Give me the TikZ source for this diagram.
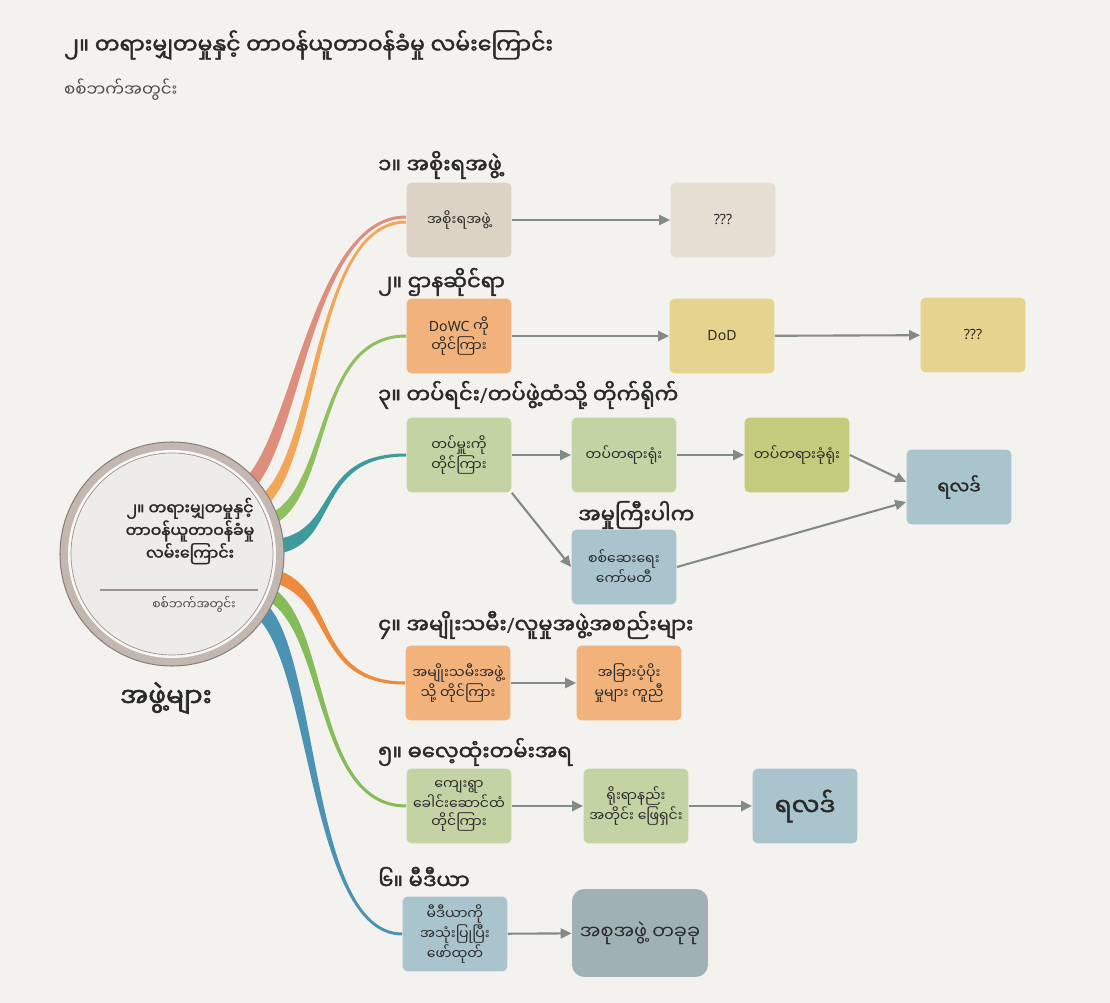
\documentclass[tikz,border=0pt]{standalone}
\usepackage{fontspec}
\setmainfont{Noto Sans}
\newfontfamily\mm[Script=Myanmar,AutoFakeBold=2]{Noto Sans Myanmar UI}
\newfontfamily\lat{Noto Sans}
\usetikzlibrary{calc,arrows.meta}

\definecolor{paper}{HTML}{F4F2EE}
\definecolor{ink}{HTML}{2A2A2A}
\definecolor{subink}{HTML}{4A4A4A}
\definecolor{arrowgrey}{HTML}{838B88}
\definecolor{beige}{HTML}{DCD3C5}
\definecolor{beigelight}{HTML}{E4DED3}
\definecolor{peach}{HTML}{F1B27C}
\definecolor{sand}{HTML}{E6D38D}
\definecolor{sage}{HTML}{C4D3A3}
\definecolor{olive}{HTML}{C4CB7D}
\definecolor{steel}{HTML}{AAC4CD}
\definecolor{slate}{HTML}{9FB1B4}
\definecolor{ringout}{HTML}{C3B7B1}
\definecolor{ringin}{HTML}{EEECE8}
\definecolor{rsalmon}{HTML}{DD8E7C}
\definecolor{rorange}{HTML}{F2A65A}
\definecolor{rgreen}{HTML}{8FBF5E}
\definecolor{rteal}{HTML}{3F9A9C}
\definecolor{rorangeb}{HTML}{EE8A3C}
\definecolor{rgreenb}{HTML}{86BB5A}
\definecolor{rblue}{HTML}{4B92B3}

\pgfdeclarelayer{paperlayer}
\pgfdeclarelayer{ribbonlayer}
\pgfsetlayers{paperlayer,ribbonlayer,main}

\tikzset{
  box/.style={rounded corners=3pt, minimum width=2.1cm, minimum height=1.5cm, inner sep=1pt,
    align=center, text=ink, font=\mm\fontsize{8}{10}\selectfont},
  latbox/.style={box, font=\lat\fontsize{8}{10}\selectfont},
  head/.style={anchor=west, text=ink, font=\mm\bfseries\fontsize{12}{14}\selectfont},
  flow/.style={draw=arrowgrey, line width=1.2pt, -{Triangle[length=2.2mm,width=2mm]}},
}

\begin{document}
\begin{tikzpicture}[x=0.02cm, y=0.02cm]
\begin{pgfonlayer}{paperlayer}
\fill[paper] (0,0) rectangle (1110,-1003);
\end{pgfonlayer}
\useasboundingbox (0,0) rectangle (1110,-1003);

\node (title) at (58,-45) [head, font=\mm\bfseries\fontsize{12.5}{15}\selectfont] {၂။ တရားမျှတမှုနှင့် တာဝန်ယူတာဝန်ခံမှု လမ်းကြောင်း};
\node (subtitle) at (58,-90) [anchor=west, text=subink, font=\mm\fontsize{9.5}{12}\selectfont] {စစ်ဘက်အတွင်း};

\coordinate (hub) at (172,-554);

\node (b1) at (459,-220) [box, fill=beige] {အစိုးရအဖွဲ့};
\node (q1) at (723,-220) [latbox, fill=beigelight] {???};
\node (b2) at (459,-336) [box, fill=peach] {{\lat DoWC} ကို\\တိုင်ကြား};
\node (dod) at (722,-336) [latbox, fill=sand] {DoD};
\node (q2) at (973,-335) [latbox, fill=sand] {???};
\node (b3) at (459,-455) [box, fill=sage] {တပ်မှူးကို\\တိုင်ကြား};
\node (c1) at (624,-455) [box, fill=sage] {တပ်တရားရုံး};
\node (c2) at (797,-455) [box, fill=olive] {တပ်တရားခုံရုံး};
\node (r3) at (959,-487) [box, fill=steel, font=\mm\bfseries\fontsize{10}{12}\selectfont] {ရလဒ်};
\node (cm) at (624,-567) [box, fill=steel] {စစ်ဆေးရေး\\ကော်မတီ};
\node (b4) at (458,-683) [box, fill=peach] {အမျိုးသမီးအဖွဲ့\\သို့ တိုင်ကြား};
\node (b4b) at (629,-683) [box, fill=peach] {အခြားပံ့ပိုး\\မှုများ ကူညီ};
\node (b5) at (459,-806) [box, fill=sage] {ကျေးရွာ\\ခေါင်းဆောင်ထံ\\တိုင်ကြား};
\node (b5b) at (636,-806) [box, fill=sage] {ရိုးရာနည်း\\အတိုင်း ဖြေရှင်း};
\node (r5) at (805,-806) [box, fill=steel, font=\mm\bfseries\fontsize{14}{16}\selectfont] {ရလဒ်};
\node (b6) at (455,-934) [box, fill=steel] {မီဒီယာကို\\အသုံးပြုပြီး\\ဖော်ထုတ်};
\node (b6b) at (640,-933) [box, fill=slate, rounded corners=7pt, minimum width=2.72cm, minimum height=1.76cm,
  font=\mm\fontsize{11}{13}\selectfont] {အစုအဖွဲ့ တခုခု};

\begin{pgfonlayer}{ribbonlayer}
\foreach \col/\ang/\tgt/\wd/\dy in {rsalmon/42/b1/3.8/3, rorange/30/b1/3.2/-2, rgreen/19/b2/3.2/0, rteal/4/b3/4.2/0,
  rorangeb/-12/b4/3.8/0, rgreenb/-22/b5/3.8/0, rblue/-32/b6/4.8/0}
  {
    \fill[\col] ($(hub)+(\ang+\wd:100)$) .. controls ($(hub)+(\ang+\wd:100)+(\ang:70)$) and ($(\tgt.west)+(-95,\dy+1.5)$) .. ($(\tgt.west)+(0,\dy+1.5)$)
      -- ($(\tgt.west)+(0,\dy-1.5)$) .. controls ($(\tgt.west)+(-95,\dy-1.5)$) and ($(hub)+(\ang-\wd:100)+(\ang:70)$) .. ($(hub)+(\ang-\wd:100)$) -- cycle;
  }
\end{pgfonlayer}

\fill[ringout, draw=ringout!70!black, line width=0.6pt] (hub) circle (112);
\fill[white!60!ringin] (hub) circle (104);
\fill[ringin, draw=ringout!80!black, line width=0.4pt] (hub) circle (101);
\node (hubtext) at (190,-531) [align=center, text=ink, font=\mm\bfseries\fontsize{9}{10.5}\selectfont] {၂။ တရားမျှတမှုနှင့်\\တာဝန်ယူတာဝန်ခံမှု\\လမ်းကြောင်း};
\coordinate (sepl) at (100,-590);
\coordinate (sepr) at (258,-590);
\draw[ringout!80!black, line width=0.6pt] (sepl) -- (sepr);
\node (hubsub) at (194,-604) [text=subink, font=\mm\fontsize{7}{9}\selectfont] {စစ်ဘက်အတွင်း};
\node (groups) at (166,-698) [text=ink, font=\mm\bfseries\fontsize{15}{17}\selectfont] {အဖွဲ့များ};

\node (h1) at (372,-165) [head] {၁။ အစိုးရအဖွဲ့};
\node (h2) at (372,-282) [head] {၂။ ဌာနဆိုင်ရာ};
\node (h3) at (372,-395) [head] {၃။ တပ်ရင်း{\lat\bfseries /}တပ်ဖွဲ့ထံသို့ တိုက်ရိုက်};
\node (h3b) at (572,-515) [head] {အမှုကြီးပါက};
\node (h4) at (372,-625) [head] {၄။ အမျိုးသမီး{\lat\bfseries /}လူမှုအဖွဲ့အစည်းများ};
\node (h5) at (372,-752) [head] {၅။ ဓလေ့ထုံးတမ်းအရ};
\node (h6) at (372,-878) [head] {၆။ မီဒီယာ};

\draw[flow] (b1) -- (q1);
\draw[flow] (b2) -- (dod);
\draw[flow] (dod) -- (q2);
\draw[flow] (b3) -- (c1);
\draw[flow] (c1) -- (c2);
\draw[flow] (c2.east) -- ($(r3.west)+(0,5)$);
\draw[flow] (b3.south east) -- (cm.west);
\draw[flow] (cm.east) -- ($(r3.west)+(0,-15)$);
\draw[flow] (b4) -- (b4b);
\draw[flow, line width=1.6pt] (b5) -- (b5b);
\draw[flow, line width=1.6pt] (b5b) -- (r5);
\draw[flow] (b6) -- (b6b);

\end{tikzpicture}
\end{document}
